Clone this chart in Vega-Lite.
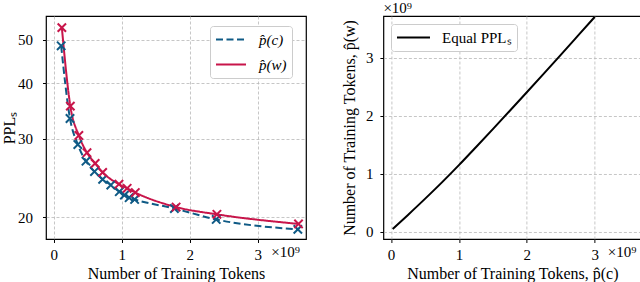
{
  "$schema": "https://vega.github.io/schema/vega-lite/v6.json",
  "background": "white",
  "padding": {"left": 0, "top": 0, "right": 1.7, "bottom": 0},
  "bounds": "flush",
  "spacing": 77.4,
  "resolve": {"scale": {"color": "independent", "strokeDash": "independent", "stroke": "independent"}, "legend": {"color": "independent", "strokeDash": "independent"}},
  "config": {
    "font": "Liberation Serif",
    "view": {"stroke": "black", "strokeWidth": 1.2},
    "axis": {
      "labelFont": "Liberation Serif", "labelFontSize": 15, "labelColor": "black",
      "titleFont": "Liberation Serif", "titleFontSize": 16, "titleFontWeight": "normal", "titleColor": "black",
      "domain": false, "tickColor": "black", "tickSize": 3.5, "tickWidth": 1,
      "grid": true, "gridColor": "#b8b8b8", "gridDash": [3, 2], "gridWidth": 0.8
    },
    "legend": {"labelFont": "Liberation Serif"},
    "text": {"font": "Liberation Serif", "fontSize": 15, "color": "black"}
  },
  "datasets": {
    "ppl": [
      {"series": "p̂(c)", "tokens": 0.11, "ppl": 48.5},
      {"series": "p̂(c)", "tokens": 0.24, "ppl": 33.3},
      {"series": "p̂(c)", "tokens": 0.355, "ppl": 29.1},
      {"series": "p̂(c)", "tokens": 0.475, "ppl": 26.7},
      {"series": "p̂(c)", "tokens": 0.6, "ppl": 25.3},
      {"series": "p̂(c)", "tokens": 0.72, "ppl": 24.3},
      {"series": "p̂(c)", "tokens": 0.84, "ppl": 23.6},
      {"series": "p̂(c)", "tokens": 0.965, "ppl": 22.8},
      {"series": "p̂(c)", "tokens": 1.04, "ppl": 22.4},
      {"series": "p̂(c)", "tokens": 1.11, "ppl": 22.1},
      {"series": "p̂(c)", "tokens": 1.19, "ppl": 21.9},
      {"series": "p̂(c)", "tokens": 1.775, "ppl": 20.9},
      {"series": "p̂(c)", "tokens": 2.39, "ppl": 19.75},
      {"series": "p̂(c)", "tokens": 3.59, "ppl": 18.76},
      {"series": "p̂(w)", "tokens": 0.12, "ppl": 53.3},
      {"series": "p̂(w)", "tokens": 0.245, "ppl": 35.5},
      {"series": "p̂(w)", "tokens": 0.37, "ppl": 30.5},
      {"series": "p̂(w)", "tokens": 0.49, "ppl": 27.9},
      {"series": "p̂(w)", "tokens": 0.61, "ppl": 26.4},
      {"series": "p̂(w)", "tokens": 0.72, "ppl": 25.2},
      {"series": "p̂(w)", "tokens": 0.96, "ppl": 23.7},
      {"series": "p̂(w)", "tokens": 1.08, "ppl": 23.2},
      {"series": "p̂(w)", "tokens": 1.2, "ppl": 22.7},
      {"series": "p̂(w)", "tokens": 1.8, "ppl": 21.06},
      {"series": "p̂(w)", "tokens": 2.4, "ppl": 20.28},
      {"series": "p̂(w)", "tokens": 3.6, "ppl": 19.3}
    ],
    "equal": [
      {"name": "Equal PPLₛ", "c_tokens": 0.025, "w_tokens": 0.045},
      {"name": "Equal PPLₛ", "c_tokens": 0.25, "w_tokens": 0.29},
      {"name": "Equal PPLₛ", "c_tokens": 0.5, "w_tokens": 0.567},
      {"name": "Equal PPLₛ", "c_tokens": 0.75, "w_tokens": 0.852},
      {"name": "Equal PPLₛ", "c_tokens": 1.0, "w_tokens": 1.15},
      {"name": "Equal PPLₛ", "c_tokens": 1.25, "w_tokens": 1.459},
      {"name": "Equal PPLₛ", "c_tokens": 1.5, "w_tokens": 1.772},
      {"name": "Equal PPLₛ", "c_tokens": 1.75, "w_tokens": 2.088},
      {"name": "Equal PPLₛ", "c_tokens": 2.0, "w_tokens": 2.408},
      {"name": "Equal PPLₛ", "c_tokens": 2.25, "w_tokens": 2.73},
      {"name": "Equal PPLₛ", "c_tokens": 2.5, "w_tokens": 3.054},
      {"name": "Equal PPLₛ", "c_tokens": 2.75, "w_tokens": 3.381},
      {"name": "Equal PPLₛ", "c_tokens": 3.0, "w_tokens": 3.709}
    ]
  },
  "hconcat": [
    {
      "width": 260,
      "height": 223,
      "layer": [
        {
          "data": {"name": "ppl"},
          "mark": {"type": "line", "strokeWidth": 2, "interpolate": "monotone"},
          "encoding": {
            "x": {"field": "tokens", "type": "quantitative",
              "scale": {"domain": [-0.113, 3.71], "nice": false, "zero": false},
              "axis": {"values": [0, 1, 2, 3], "format": "d", "title": "Number of Training Tokens", "labelFont": "Liberation Serif", "titleFont": "Liberation Serif", "labelPadding": 5, "titlePadding": 3}},
            "y": {"field": "ppl", "type": "quantitative",
              "scale": {"type": "log", "domain": [17.85, 56.6], "nice": false},
              "axis": {"values": [20, 30, 40, 50], "format": "d", "title": "PPLₛ", "labelFont": "Liberation Serif", "titleFont": "Liberation Serif", "labelPadding": 10, "titlePadding": 0}},
            "color": {"field": "series", "type": "nominal",
              "scale": {"domain": ["p̂(c)", "p̂(w)"], "range": ["#0f5a85", "#c8154a"]},
              "legend": {"title": null, "orient": "none", "legendX": 164, "legendY": 10,
                "symbolType": "M-1,0L3,0", "symbolSize": 225, "symbolStrokeWidth": 2,
                "labelFont": "Liberation Serif", "labelFontSize": 15, "labelFontStyle": "italic",
                "labelOffset": 27, "rowPadding": 8, "padding": 5,
                "strokeColor": "#cccccc", "fillColor": "white", "cornerRadius": 3}},
            "strokeDash": {"field": "series", "type": "nominal",
              "scale": {"domain": ["p̂(c)", "p̂(w)"], "range": [[7, 3.5], [1, 0]]},
              "legend": {"title": null, "orient": "none", "legendX": 164, "legendY": 10,
                "symbolType": "M-1,0L3,0", "symbolSize": 225, "symbolStrokeWidth": 2,
                "labelFont": "Liberation Serif", "labelFontSize": 15, "labelFontStyle": "italic",
                "labelOffset": 27, "rowPadding": 8, "padding": 5,
                "strokeColor": "#cccccc", "fillColor": "white", "cornerRadius": 3}}
          }
        },
        {
          "data": {"name": "ppl"},
          "mark": {"type": "point", "shape": "M-1,-1L1,1M1,-1L-1,1", "filled": false, "size": 70, "strokeWidth": 2, "opacity": 1},
          "encoding": {
            "x": {"field": "tokens", "type": "quantitative"},
            "y": {"field": "ppl", "type": "quantitative"},
            "stroke": {"field": "series", "type": "nominal",
              "scale": {"domain": ["p̂(c)", "p̂(w)"], "range": ["#0f5a85", "#c8154a"]}, "legend": null}
          }
        },
        {
          "data": {"values": [{"tokens": 3.71, "ppl": 17.85, "t": "×10⁹"}]},
          "mark": {"type": "text", "align": "right", "baseline": "top", "dx": -6, "dy": 6, "font": "Liberation Serif"},
          "encoding": {
            "x": {"field": "tokens", "type": "quantitative"},
            "y": {"field": "ppl", "type": "quantitative"},
            "text": {"field": "t"}
          }
        }
      ]
    },
    {
      "width": 258,
      "height": 223,
      "layer": [
        {
          "data": {"name": "equal"},
          "mark": {"type": "line", "strokeWidth": 2, "interpolate": "monotone"},
          "encoding": {
            "x": {"field": "c_tokens", "type": "quantitative",
              "scale": {"domain": [-0.112, 3.687], "nice": false, "zero": false},
              "axis": {"values": [0, 1, 2, 3], "format": "d", "title": "Number of Training Tokens, p̂(c)", "labelFont": "Liberation Serif", "titleFont": "Liberation Serif", "labelPadding": 5, "titlePadding": 3}},
            "y": {"field": "w_tokens", "type": "quantitative",
              "scale": {"domain": [-0.126, 3.725], "nice": false, "zero": false},
              "axis": {"values": [0, 1, 2, 3], "format": "d", "title": "Number of Training Tokens, p̂(w)", "labelFont": "Liberation Serif", "titleFont": "Liberation Serif", "labelPadding": 7, "titlePadding": 8}},
            "color": {"field": "name", "type": "nominal",
              "scale": {"domain": ["Equal PPLₛ"], "range": ["black"]},
              "legend": {"title": null, "orient": "none", "legendX": 7.6, "legendY": 8,
                "symbolType": "M-1,0L3.4,0", "symbolSize": 225, "symbolStrokeWidth": 2,
                "labelFont": "Liberation Serif", "labelFontSize": 15,
                "labelOffset": 29, "padding": 5,
                "strokeColor": "#cccccc", "fillColor": "white", "cornerRadius": 3}}
          }
        },
        {
          "data": {"values": [{"c_tokens": -0.112, "w_tokens": 3.725, "t": "×10⁹"}]},
          "mark": {"type": "text", "align": "left", "baseline": "bottom", "dy": 0, "font": "Liberation Serif"},
          "encoding": {
            "x": {"field": "c_tokens", "type": "quantitative"},
            "y": {"field": "w_tokens", "type": "quantitative"},
            "text": {"field": "t"}
          }
        },
        {
          "data": {"values": [{"c_tokens": 3.687, "w_tokens": -0.126, "t": "×10⁹"}]},
          "mark": {"type": "text", "align": "right", "baseline": "top", "dx": -5, "dy": 6, "font": "Liberation Serif"},
          "encoding": {
            "x": {"field": "c_tokens", "type": "quantitative"},
            "y": {"field": "w_tokens", "type": "quantitative"},
            "text": {"field": "t"}
          }
        }
      ]
    }
  ]
}
